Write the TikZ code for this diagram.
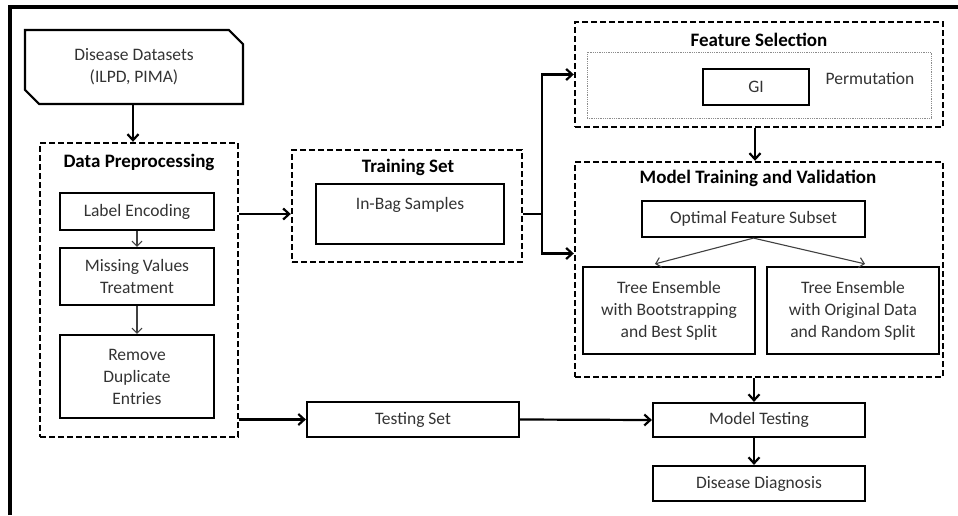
\documentclass[tikz,border=0pt]{standalone}
\usepackage{fontspec}
\setmainfont{Carlito}
\usetikzlibrary{arrows.meta,shapes.misc,positioning}

\begin{document}
\begin{tikzpicture}[x=1pt,y=-1pt,
  box/.style={rectangle,draw,line width=2.2pt,align=center,text=black!80,font=\fontsize{17.5}{22}\selectfont,inner sep=0pt},
  group/.style={rectangle,draw,line width=2.4pt,dash pattern=on 6pt off 3pt,inner sep=0pt},
  title/.style={font=\fontsize{19}{22}\selectfont\bfseries},
  arr/.style={line width=2.2pt,-{Straight Barb[length=6pt,width=11pt]}},
  thin/.style={line width=1.1pt,black!75,-{Straight Barb[length=5pt,width=10pt]}}]
	 \useasboundingbox (0,0) rectangle (958,515);
	 \draw[line width=3.5pt] (10,515) -- (10,7) -- (958,7);

	 \node at (134,67) [chamfered rectangle,chamfered rectangle corners={north east,south west},chamfered rectangle xsep=11pt,chamfered rectangle angle=45,draw,line width=2.2pt,minimum width=218,minimum height=74,align=center,text=black!80,font=\fontsize{17.5}{22}\selectfont] (data) {Disease Datasets\\(ILPD, PIMA)};

	 \node at (139,290) [group,minimum width=198,minimum height=294] (prep) {};
	 \node at (139,162) [title] (preptitle) {Data Preprocessing};
	 \node at (137,211.5) [box,minimum width=154,minimum height=37] (lblenc) {Label Encoding};
	 \node at (137,276.5) [box,minimum width=154,minimum height=57] (missing) {Missing Values\\Treatment};
	 \node at (137,376.5) [box,minimum width=154,minimum height=83] (dupl) {Remove\\Duplicate\\Entries};

	 \node at (407,206) [group,minimum width=230,minimum height=112] (train) {};
	 \node at (408,167) [title] (traintitle) {Training Set};
	 \node at (410,214) [box,minimum width=188,minimum height=60,text depth=21pt] (inbag) {In-Bag Samples};

	 \node at (413,419.5) [box,minimum width=212,minimum height=35] (test) {Testing Set};

	 \node at (759,74.5) [group,minimum width=368,minimum height=105] (feat) {};
	 \node at (759,40) [title] (feattitle) {Feature Selection};
	 \node at (759,85) [rectangle,draw=black!45,densely dotted,line width=0.8pt,minimum width=344,minimum height=66] (fsinner) {};
	 \node at (756,87) [box,minimum width=106,minimum height=36] (gi) {GI};
	 \node at (870,79) [text=black!80,font=\fontsize{17.5}{22}\selectfont] (perm) {Permutation};

	 \node at (759,269.5) [group,minimum width=368,minimum height=215] (mtv) {};
	 \node at (758,178) [title] (mtvtitle) {Model Training and Validation};
	 \node at (753.5,219) [box,minimum width=223,minimum height=36] (optimal) {Optimal Feature Subset};
	 \node at (669,310.5) [box,minimum width=172,minimum height=87] (treeL) {Tree Ensemble\\with Bootstrapping\\and Best Split};
	 \node at (853,310.5) [box,minimum width=172,minimum height=87] (treeR) {Tree Ensemble\\with Original Data\\and Random Split};

	 \node at (759,420) [box,minimum width=212,minimum height=34] (mtest) {Model Testing};
	 \node at (759,483.5) [box,minimum width=212,minimum height=35] (diag) {Disease Diagnosis};

	 \coordinate (fork) at (542,214);

	 \draw[arr] ([xshift=-1pt]data.south) -- ([xshift=-1pt]data.south |- prep.north);
	 \draw[thin] (lblenc) -- (missing);
	 \draw[thin] (missing) -- (dupl);
	 \draw[arr] (prep.east |- inbag) -- (train.west |- inbag);
	 \draw[arr] (prep.east |- test) -- (test.west);
	 \draw[line width=2.2pt] (train.east |- inbag) -- (fork);
	 \draw[arr] (fork) |- (feat.west);
	 \draw[arr] (fork) |- ([yshift=16pt]mtv.west);
	 \draw[arr] ([xshift=-4pt]feat.south) -- ([xshift=-4pt]mtv.north);
	 \draw[thin] (optimal.south) -- ([xshift=-14pt,yshift=2pt]treeL.north);
	 \draw[thin] (optimal.south) -- ([xshift=12pt,yshift=2pt]treeR.north);
	 \draw[arr] ([xshift=-5pt]mtv.south) -- ([xshift=-5pt]mtv.south |- mtest.north);
	 \draw[arr] (test.east) -- (mtest.west);
	 \draw[arr] ([xshift=-5pt]mtest.south) -- ([xshift=-5pt]diag.north);
\end{tikzpicture}
\end{document}
